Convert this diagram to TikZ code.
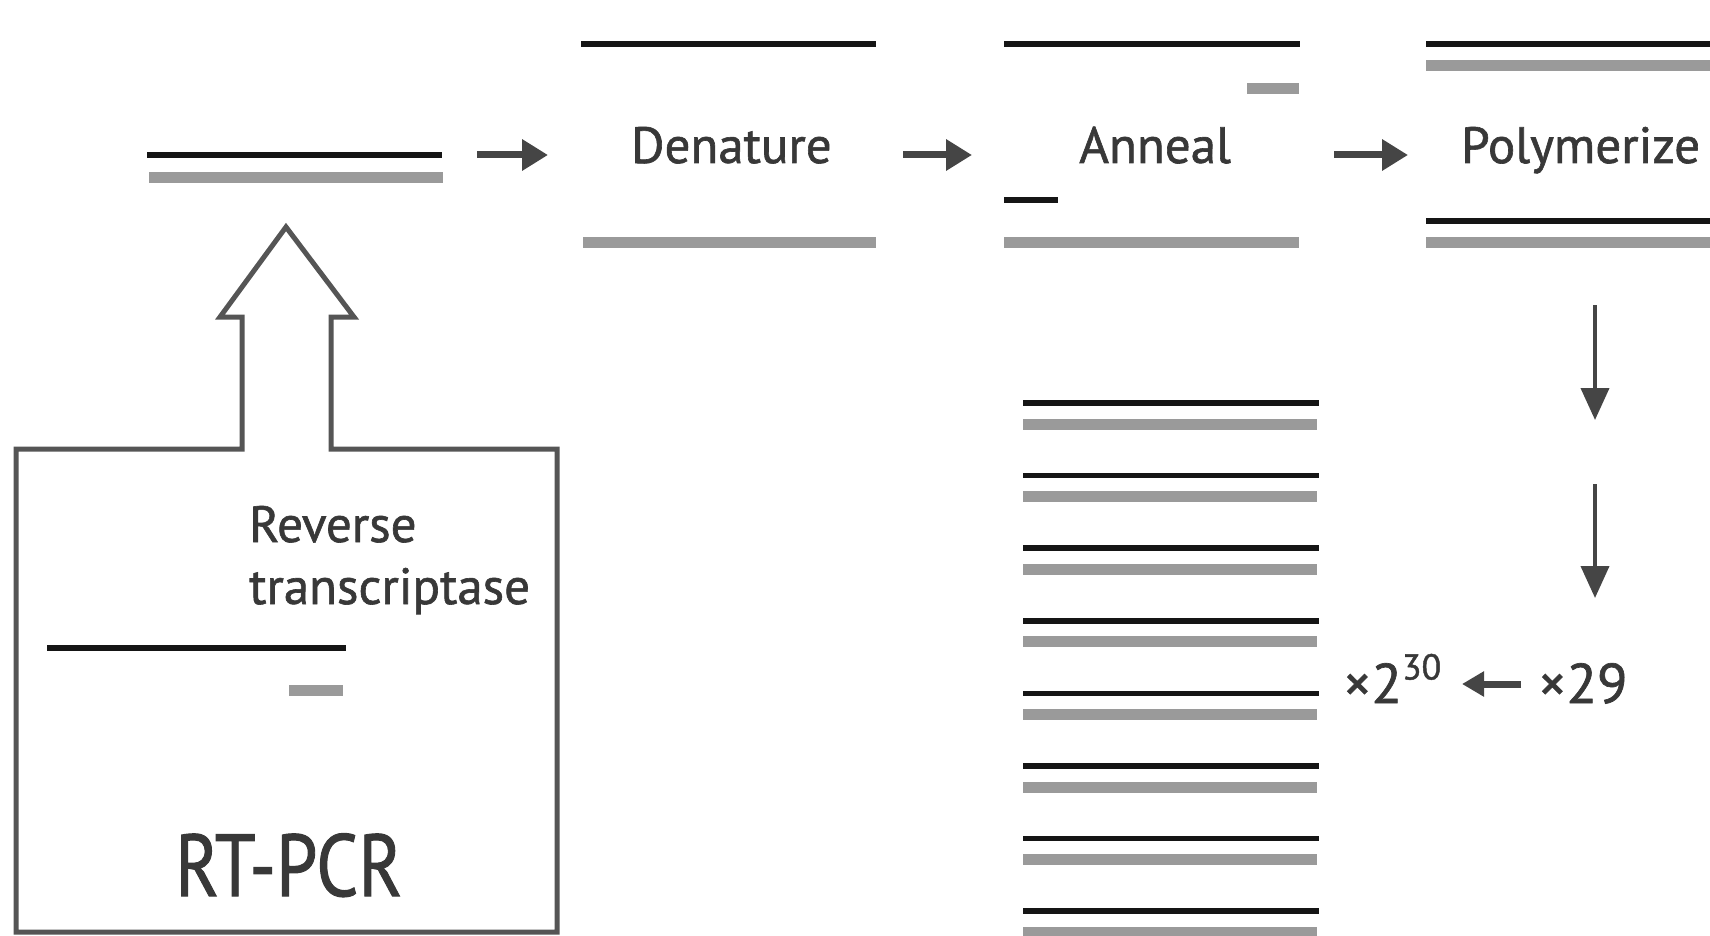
\documentclass[tikz,border=0pt]{standalone}
\usepackage{fontspec}
\setmainfont{PT Sans}[FakeBold=1.2]
\usetikzlibrary{arrows.meta}
\definecolor{strandblack}{HTML}{151515}
\definecolor{strandgrey}{HTML}{9A9A9A}
\definecolor{inkgrey}{HTML}{454545}
\definecolor{txtgrey}{HTML}{383838}
\definecolor{boxgrey}{HTML}{555555}
\begin{document}
\begin{tikzpicture}[x=1pt,y=-1pt,
  dna/.style={line width=5.5pt, draw=strandblack},
  rna/.style={line width=11pt, draw=strandgrey},
  flow/.style={line width=7pt, draw=inkgrey, -{Triangle[length=26pt,width=30pt]}},
  downflow/.style={line width=4pt, draw=inkgrey, -{Triangle[length=32pt,width=28pt]}},
  backflow/.style={line width=7pt, draw=inkgrey, -{Triangle[length=22pt,width=24pt]}},
  lbl/.style={inner sep=0pt, text=txtgrey, anchor=base west, font=\fontsize{51}{60}\selectfont},
  biglbl/.style={inner sep=0pt, text=txtgrey, anchor=base west, xscale=0.84, font=\fontsize{88}{100}\selectfont},
  cnt/.style={inner sep=0pt, text=txtgrey, anchor=base west, font=\fontsize{56}{64}\selectfont},
]
\useasboundingbox (0,0) rectangle (1710,936);

% ---------- starting duplex ----------
\draw[dna] (147,155) -- (442,155);
\draw[rna] (149,178) -- (443,178);

% ---------- labels ----------
\node[lbl] (den) at (631,163) {Denature};
\node[lbl] (ann) at (1079,163) {Anneal};
\node[lbl] (pol) at (1461,163) {Polymerize};

% ---------- horizontal step arrows ----------
\coordinate (a1s) at (477,155);
\coordinate (a1e) at (548,155);
\coordinate (a2s) at (903,155);
\coordinate (a2e) at (972,155);
\coordinate (a3s) at (1334,155);
\coordinate (a3e) at (1408,155);
\draw[flow] (a1s) -- (a1e);
\draw[flow] (a2s) -- (a2e);
\draw[flow] (a3s) -- (a3e);

% ---------- denature strands ----------
\draw[dna] (581,44) -- (876,44);
\draw[rna] (583,242) -- (876,242);

% ---------- anneal strands ----------
\draw[dna] (1004,44) -- (1300,44);
\draw[rna] (1247,89) -- (1299,89);
\draw[dna] (1004,200) -- (1058,200);
\draw[rna] (1004,242) -- (1299,242);

% ---------- polymerize strands ----------
\draw[dna] (1426,44) -- (1712,44);
\draw[rna] (1426,66) -- (1712,66);
\draw[dna] (1426,221) -- (1712,221);
\draw[rna] (1426,242) -- (1712,242);

% ---------- down arrows ----------
\coordinate (d1s) at (1595,305);
\coordinate (d1e) at (1595,420);
\coordinate (d2s) at (1595,484);
\coordinate (d2e) at (1595,598);
\draw[downflow] (d1s) -- (d1e);
\draw[downflow] (d2s) -- (d2e);

% ---------- cycle counts ----------
\node[cnt] (x29) at (1538,703) {×29};
\node[cnt] (x230) at (1343,703) {×2\raisebox{0.42em}{\fontsize{36}{40}\selectfont 30}};
\coordinate (bs) at (1521,684);
\coordinate (be) at (1462,684);
\draw[backflow] (bs) -- (be);

% ---------- amplified stack ----------
\foreach \k in {0,...,7}{
  \draw[dna] (1023,403+72.6*\k) -- (1319,403+72.6*\k);
  \draw[rna] (1023,424+72.6*\k) -- (1317,424+72.6*\k);
}

% ---------- RT-PCR box with arrow ----------
\draw[line width=5pt, draw=boxgrey, line join=miter]
  (242,449) -- (16,449) -- (16,932) -- (557,932) -- (557,449) -- (331,449)
  -- (331,317) -- (354,317) -- (286,227) -- (220,317) -- (242,317) -- cycle;

\node[lbl] (rev) at (249,542) {Reverse};
\node[lbl] (trn) at (249,604) {transcriptase};
\draw[dna] (47,648) -- (346,648);
\draw[rna] (289,690) -- (343,690);
\node[biglbl] (rt) at (175,896) {RT-PCR};
\end{tikzpicture}
\end{document}
